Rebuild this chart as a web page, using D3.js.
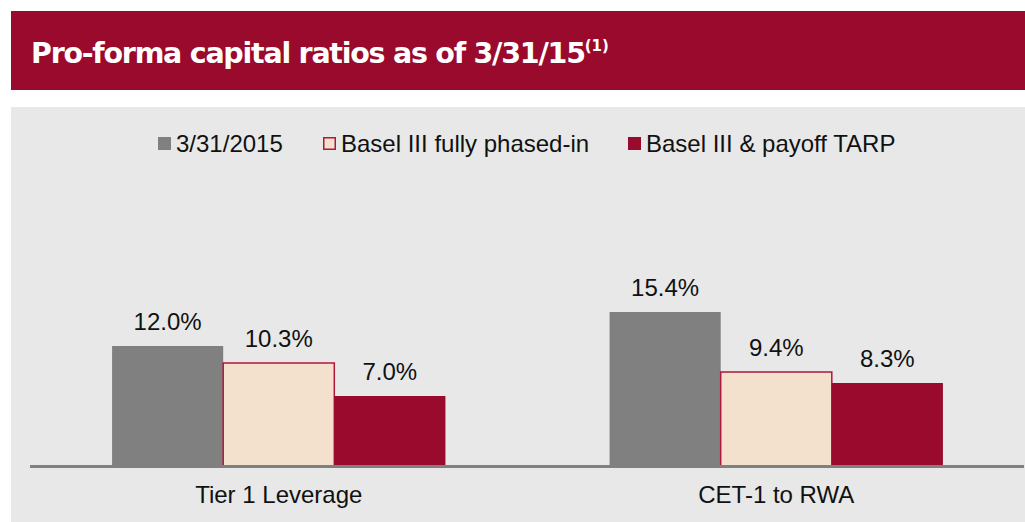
<!DOCTYPE html>
<html>
<head>
<meta charset="utf-8">
<script src="https://cdn.jsdelivr.net/npm/d3@7"></script>
<style>
body { margin: 0; background: #fff; }
text { font-family: "Liberation Sans", Arial, sans-serif; }
</style>
</head>
<body>
<div class="chart"></div>
<script>
var width = 1025;
var height = 522;

var categories = ["Tier 1 Leverage", "CET-1 to RWA"];
var seriesNames = ["3/31/2015", "Basel III fully phased-in", "Basel III & payoff TARP"];
var ratios = [
    [12.0, 10.3, 7.0],
    [15.4, 9.4, 8.3]
];
var labels = [
    ["12.0%", "10.3%", "7.0%"],
    ["15.4%", "9.4%", "8.3%"]
];

var fills = ["#808080", "#f4e1cd", "#990a2c"];
var strokes = ["none", "#b0163e", "none"];

var svg = d3.select(".chart")
    .append("svg")
    .attr("width", width)
    .attr("height", height);

// title bar
svg.append("rect")
    .attr("x", 11).attr("y", 11)
    .attr("width", width - 11).attr("height", 79)
    .attr("fill", "#990a2c");

var title = svg.append("text")
    .attr("x", 31).attr("y", 63)
    .attr("fill", "#fff")
    .style("font-size", "28.5px")
    .style("font-weight", "bold")
    .style("font-family", "'DejaVu Sans', sans-serif")
    .style("letter-spacing", "-1.25px")
    .text("Pro-forma capital ratios as of 3/31/15");
title.append("tspan")
    .attr("dy", -12)
    .style("font-size", "15px")
    .style("letter-spacing", "0px")
    .text("(1)");

// panel
svg.append("rect")
    .attr("x", 11).attr("y", 107)
    .attr("width", width - 11).attr("height", height - 107)
    .attr("fill", "#e8e8e8");

var x0 = d3.scaleBand()
    .domain(categories)
    .range([30, 1025])
    .paddingInner(0.33)
    .paddingOuter(0.165);

var x1 = d3.scaleBand()
    .domain(d3.range(seriesNames.length))
    .range([0, x0.bandwidth()]);

var y = d3.scaleLinear()
    .domain([0, 20])
    .range([466, 266]);

var groups = svg.selectAll(".grp")
    .data(categories)
    .enter()
    .append("g")
    .attr("class", "grp")
    .attr("transform", function(d) { return "translate(" + x0(d) + ",0)"; });

groups.selectAll("rect")
    .data(function(d, i) { return ratios[i].map(function(v, j) { return {v: v, s: j}; }); })
    .enter()
    .append("rect")
    .attr("x", function(d) { return x1(d.s); })
    .attr("y", function(d) { return y(d.v); })
    .attr("width", x1.bandwidth())
    .attr("height", function(d) { return y(0) - y(d.v); })
    .attr("fill", function(d) { return fills[d.s]; })
    .attr("stroke", function(d) { return strokes[d.s]; })
    .attr("stroke-width", 1.5);

groups.selectAll(".val")
    .data(function(d, i) { return ratios[i].map(function(v, j) { return {v: v, s: j, t: labels[i][j]}; }); })
    .enter()
    .append("text")
    .attr("class", "val")
    .attr("x", function(d) { return x1(d.s) + x1.bandwidth() / 2; })
    .attr("y", function(d) { return y(d.v) - 16; })
    .attr("text-anchor", "middle")
    .style("font-size", "24px")
    .attr("fill", "#111")
    .text(function(d) { return d.t; });

// baseline
svg.append("line")
    .attr("x1", 30).attr("x2", 1024)
    .attr("y1", y(0) + 0.5).attr("y2", y(0) + 0.5)
    .attr("stroke", "#808080")
    .attr("stroke-width", 3);

var xAxis = d3.axisBottom(x0).tickSize(0).tickPadding(20);
var ax = svg.append("g")
    .attr("transform", "translate(0," + y(0) + ")")
    .call(xAxis);
ax.select(".domain").remove();
ax.selectAll("text")
    .style("font-size", "24px")
    .style("font-family", "'Liberation Sans', Arial, sans-serif")
    .attr("fill", "#111");

// legend
var legendX = [158, 323, 628];
var legend = svg.selectAll(".leg")
    .data(seriesNames)
    .enter()
    .append("g")
    .attr("class", "leg")
    .attr("transform", function(d, i) { return "translate(" + legendX[i] + ",137)"; });

legend.append("rect")
    .attr("x", function(d, i) { return i == 1 ? 0.75 : 0; })
    .attr("y", function(d, i) { return i == 1 ? 0.75 : 0; })
    .attr("width", function(d, i) { return i == 1 ? 11.5 : 13; })
    .attr("height", function(d, i) { return i == 1 ? 11.5 : 13; })
    .attr("fill", function(d, i) { return fills[i]; })
    .attr("stroke", function(d, i) { return i == 1 ? "#b0163e" : "none"; })
    .attr("stroke-width", 1.5);

legend.append("text")
    .attr("x", 18)
    .attr("y", 15)
    .style("font-size", "24px")
    .attr("fill", "#111")
    .text(function(d) { return d; });
</script>
</body>
</html>
